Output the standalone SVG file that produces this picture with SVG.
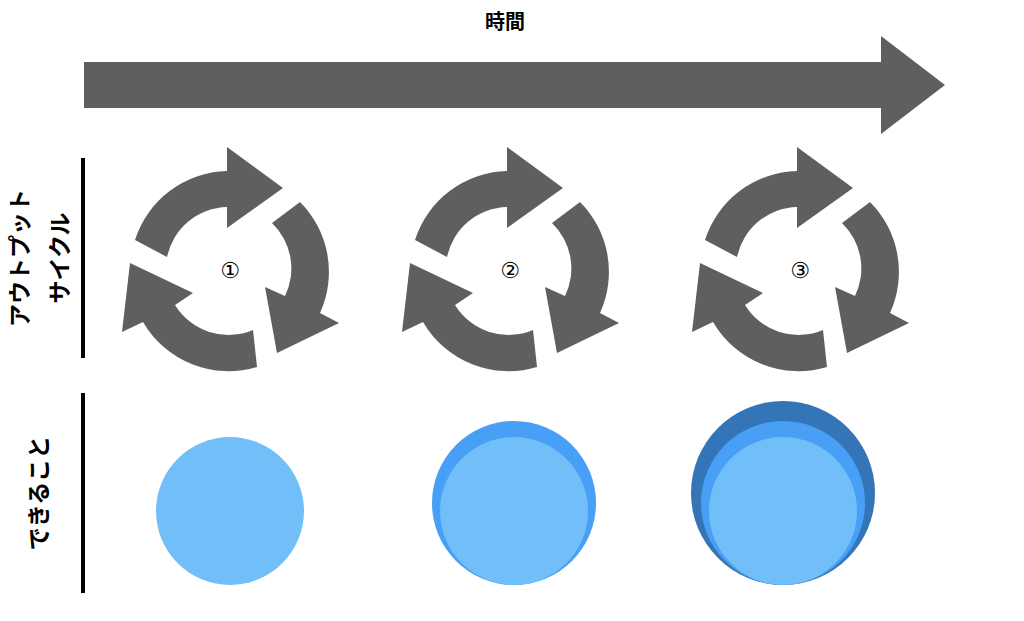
<svg xmlns="http://www.w3.org/2000/svg" width="1024" height="621" viewBox="0 0 1024 621">
<style>
.g{fill:#5f5f5f}
.t{font-family:"Noto Sans CJK JP","Liberation Sans",sans-serif;font-weight:bold;fill:#000}
.n{font-family:"DejaVu Sans","Noto Sans CJK JP",sans-serif;font-size:22px;fill:#000}
.bar{stroke:#000;stroke-width:4}
</style>
<defs>
<g id="cyc">
<path class="g" d="M135,240 A99,99 0 0 1 227,171 L227,147 L283,188 L227,228 L227,207 A63,63 0 0 0 167,257 Z"/>
<path class="g" d="M300,202 A99,99 0 0 1 320,313 L339,323 L277,353 L265,287 L285,296 A63,63 0 0 0 272,223 Z"/>
<path class="g" d="M257,367 A99,99 0 0 1 143,322 L122,332 L130,263 L193,293 L175,305 A63,63 0 0 0 253,330 Z"/>
</g>
</defs>
<rect width="1024" height="621" fill="#fff"/>
<g id="time">
<text class="t" x="505" y="29" font-size="20" text-anchor="middle">時間</text>
<path class="g" d="M84,62 H881 V36 L945,85 L881,134 V108 H84 Z"/>
</g>
<g id="labels">
<line class="bar" x1="83" y1="158" x2="83" y2="358"/>
<line class="bar" x1="83" y1="393" x2="83" y2="593"/>
<text class="t" font-size="23" text-anchor="middle" transform="translate(28,258) rotate(-90)">アウトプット</text>
<text class="t" font-size="23" text-anchor="middle" transform="translate(68,258) rotate(-90)">サイクル</text>
<text class="t" font-size="23" text-anchor="middle" transform="translate(47,493) rotate(-90)">できること</text>
</g>
<g id="cycle1"><use href="#cyc"/><text class="n" x="230" y="278" text-anchor="middle">①</text></g>
<g id="cycle2"><use href="#cyc" transform="translate(280,0)"/><text class="n" x="510" y="278" text-anchor="middle">②</text></g>
<g id="cycle3"><use href="#cyc" transform="translate(570,0)"/><text class="n" x="800" y="278" text-anchor="middle">③</text></g>
<g id="can1"><circle cx="230" cy="511" r="74" fill="#72bef8"/></g>
<g id="can2"><circle cx="514" cy="503" r="82" fill="#47a0f5"/><circle cx="514" cy="511" r="74" fill="#72bef8"/></g>
<g id="can3"><circle cx="783" cy="493" r="92" fill="#3375b6"/><circle cx="783" cy="503" r="82" fill="#47a0f5"/><circle cx="783" cy="511" r="74" fill="#72bef8"/></g>
<g id="connectors"/>
</svg>
